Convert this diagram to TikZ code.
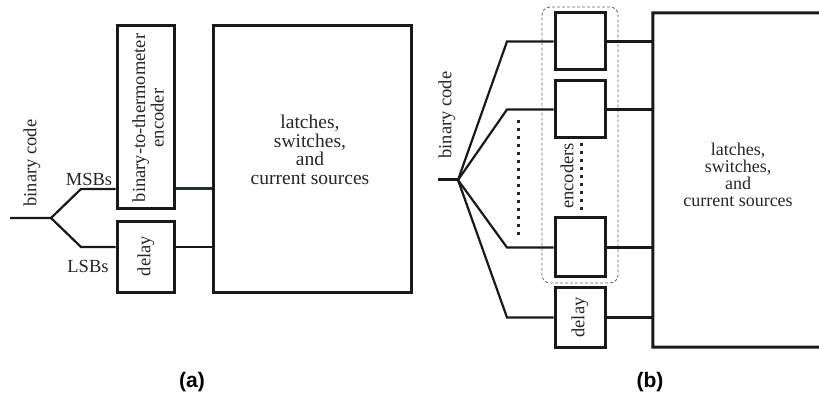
\documentclass[tikz,border=0pt]{standalone}
\usepackage{fontspec}
\setmainfont{Liberation Serif}
\newfontfamily\capfont{Liberation Sans}
\definecolor{slatewire}{RGB}{30,48,60}
\begin{document}
\begin{tikzpicture}[x=1pt,y=-1pt,
  boxline/.style={line width=3pt, draw=black!90},
  box/.style={boxline, inner sep=0pt},
  wire/.style={line width=2.2pt, draw=black!90},
  heavywire/.style={line width=3pt, draw=black!90},
  txt/.style={font=\fontsize{18.5}{18.5}\selectfont, text=black!85, inner sep=0pt, align=center},
  bigtxt/.style={font=\fontsize{19.5}{18.5}\selectfont, text=black!85, inner sep=0pt, align=center},
  captxt/.style={font=\capfont\bfseries\fontsize{21}{21}\selectfont, inner sep=0pt},
  group/.style={draw=black!60, line width=0.8pt, dash pattern=on 3pt off 2pt, rounded corners=8pt, inner sep=0pt},
  dotline/.style={line width=3pt, draw=black!85, dash pattern=on 3pt off 5pt}]
\useasboundingbox (0,0) rectangle (819,395);

% ---------- panel (a) ----------
\node[box, minimum width=57pt, minimum height=183pt] (encA) at (145.5,117.5) {};
\node[box, minimum width=57pt, minimum height=71pt] (delA) at (145.5,257.5) {};
\node[box, minimum width=198pt, minimum height=267pt] (bigA) at (312,159.5) {};

\node[txt, rotate=90] (encAt) at (148,118) {binary-to-thermometer\\encoder};
\node[txt, rotate=90] (delAt) at (146,256) {delay};
\node[bigtxt] (bigAt) at (310,150) {latches,\\switches,\\and\\current sources};
\node[txt, rotate=90] (binA) at (32,163) {binary code};
\node[txt] (msbl) at (89,179) {MSBs};
\node[txt] (lsbl) at (88,266) {LSBs};

\coordinate (inA) at (10,218);
\coordinate (splitA) at (51,218);
\coordinate (msb) at (81,189);
\coordinate (lsb) at (81,247);
\draw[wire] (inA) -- (splitA) -- (msb) -- (encA.west |- msb);
\draw[wire] (splitA) -- (lsb) -- (delA.west |- lsb);
\draw[heavywire, draw=slatewire] (encA.east |- msb) -- (bigA.west |- msb);
\draw[wire] (delA.east |- lsb) -- (bigA.west |- lsb);

\node[captxt] (capA) at (192,382) {(a)};

% ---------- panel (b) ----------
\node[group, minimum width=76pt, minimum height=276pt] (grp) at (580,145) {};
\node[box, minimum width=50pt, minimum height=57pt] (e1) at (580,41.5) {};
\node[box, minimum width=50pt, minimum height=57pt] (e2) at (580,109.5) {};
\node[box, minimum width=50pt, minimum height=59pt] (e3) at (580,247.5) {};
\node[box, minimum width=50pt, minimum height=59pt] (delB) at (580,317.5) {};
\node[txt, rotate=90] (delBt) at (580,317.5) {delay};
\node[txt, rotate=90] (encl) at (567,176) {encoders};
\node[txt, rotate=90] (binB) at (447,115) {binary code};

\node[inner sep=0pt, minimum width=170pt, minimum height=334pt] (bigB) at (738,180) {};
\node[txt, font=\fontsize{18}{17}\selectfont] (bigBt) at (738,175) {latches,\\switches,\\and\\current sources};
\draw[boxline] (819,13) -- (bigB.north west) -- (bigB.south west) -- (819,347);

\coordinate (inB) at (438,180);
\coordinate (splitB) at (458,180);
\coordinate (c1) at (507,41.5);
\coordinate (c2) at (507,109.5);
\coordinate (c3) at (507,247.5);
\coordinate (c4) at (507,317.5);
\draw[heavywire] (inB) -- (splitB);
\draw[wire] (splitB) -- (c1) -- (e1.west);
\draw[wire] (splitB) -- (c2) -- (e2.west);
\draw[wire] (splitB) -- (c3) -- (e3.west);
\draw[wire] (splitB) -- (c4) -- (delB.west);
\draw[heavywire] (e1.east) -- (bigB.west |- e1.east);
\draw[wire] (e2.east) -- (bigB.west |- e2.east);
\draw[heavywire] (e3.east) -- (bigB.west |- e3.east);
\draw[heavywire] (delB.east) -- (bigB.west |- delB.east);

\draw[dotline] (518,120) -- (518,236);
\draw[dotline] (581,143) -- (581,214);

\node[captxt] (capB) at (650,382) {(b)};
\end{tikzpicture}
\end{document}
